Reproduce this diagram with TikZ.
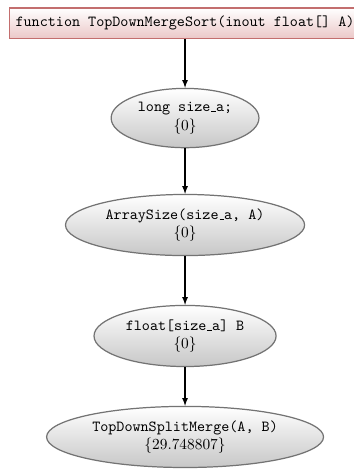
\documentclass[tikz,border=0pt]{standalone}
\usepackage{tikz}
\usetikzlibrary{positioning}
\usetikzlibrary{arrows}
\usetikzlibrary{shapes}

\definecolor{funcedge}{RGB}{195,110,110}
\definecolor{funcfill}{RGB}{235,200,200}
\newcommand{\us}{\kern.06em\vbox{\hrule width.3em}}

\tikzset{
  funcbox/.style={rectangle,draw=funcedge,thick,top color=white,bottom color=funcfill,
    font=\ttfamily,inner xsep=4pt,inner ysep=5.2pt},
  stmt/.style={ellipse,draw=black!55,thick,top color=white,bottom color=black!22,
    align=center},
}

\begin{document}
\begin{tikzpicture}[>=latex,node distance=2cm,on grid]
   \useasboundingbox (0,0) rectangle (230.3pt,-305.8pt);
   \node[funcbox] (func) at (120.4pt,-15pt) {function TopDownMergeSort(inout float[] A)};
   \node[stmt] (decl) [below=61.8pt of func] {\texttt{long size\us a;}\\$\{0\}$};
   \node[stmt] (size) [below=69.6pt of decl] {\texttt{ArraySize(size\us a, A)}\\$\{0\}$};
   \node[stmt] (alloc) [below=72.2pt of size] {\texttt{float[size\us a] B}\\$\{0\}$};
   \node[stmt] (split) [below=65.7pt of alloc] {\texttt{TopDownSplitMerge(A, B)}\\$\{29.748807\}$};
    \path[->,line width=0.75pt]
    (func) edge (decl)
    (decl) edge (size)
    (size) edge (alloc)
    (alloc) edge (split);
\end{tikzpicture}
\end{document}
